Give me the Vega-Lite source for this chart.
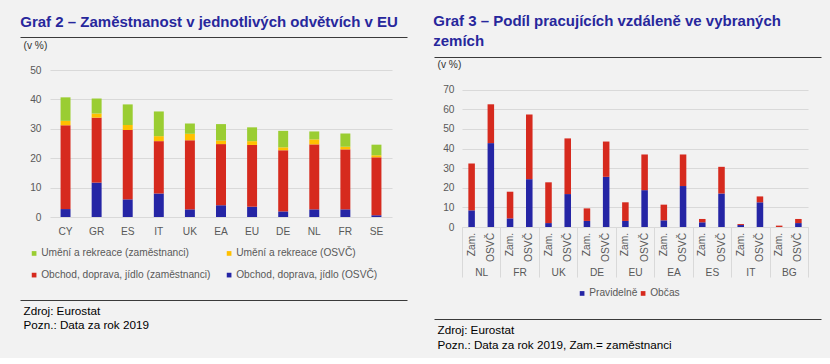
{
  "$schema": "https://vega.github.io/schema/vega-lite/v6.json",
  "background": "#f2f2f2",
  "padding": {"left": 17, "top": 14, "right": 4, "bottom": 7},
  "bounds": "flush",
  "spacing": 70,
  "resolve": {"scale": {"color": "independent"}, "legend": {"color": "independent"}},
  "config": {
    "font": "Liberation Sans",
    "view": {"stroke": null},
    "axis": {"labelFont": "Liberation Sans", "titleFont": "Liberation Sans", "labelFontSize": 10.2, "labelColor": "#595959", "gridColor": "#d9d9d9", "gridWidth": 1},
    "legend": {"labelFont": "Liberation Sans", "labelFontSize": 10.2, "labelColor": "#595959", "symbolType": "square", "symbolSize": 22, "labelOffset": 2, "title": null, "padding": 0},
    "title": {"font": "Liberation Sans"}
  },
  "datasets": {
    "vzdalene": [
      {"k": "NL Zam.", "zeme": "NL", "typ": "Zam.", "Pravidelně": 8.5, "Občas": 23.9},
      {"k": "NL OSVČ", "zeme": "NL", "typ": "OSVČ", "Pravidelně": 42.8, "Občas": 19.8},
      {"k": "FR Zam.", "zeme": "FR", "typ": "Zam.", "Pravidelně": 4.4, "Občas": 13.6},
      {"k": "FR OSVČ", "zeme": "FR", "typ": "OSVČ", "Pravidelně": 24.4, "Občas": 33.0},
      {"k": "UK Zam.", "zeme": "UK", "typ": "Zam.", "Pravidelně": 2.0, "Občas": 20.8},
      {"k": "UK OSVČ", "zeme": "UK", "typ": "OSVČ", "Pravidelně": 16.8, "Občas": 28.4},
      {"k": "DE Zam.", "zeme": "DE", "typ": "Zam.", "Pravidelně": 3.1, "Občas": 6.4},
      {"k": "DE OSVČ", "zeme": "DE", "typ": "OSVČ", "Pravidelně": 25.6, "Občas": 18.0},
      {"k": "EU Zam.", "zeme": "EU", "typ": "Zam.", "Pravidelně": 3.1, "Občas": 9.5},
      {"k": "EU OSVČ", "zeme": "EU", "typ": "OSVČ", "Pravidelně": 18.8, "Občas": 18.2},
      {"k": "EA Zam.", "zeme": "EA", "typ": "Zam.", "Pravidelně": 3.4, "Občas": 8.0},
      {"k": "EA OSVČ", "zeme": "EA", "typ": "OSVČ", "Pravidelně": 20.9, "Občas": 16.1},
      {"k": "ES Zam.", "zeme": "ES", "typ": "Zam.", "Pravidelně": 2.4, "Občas": 1.7},
      {"k": "ES OSVČ", "zeme": "ES", "typ": "OSVČ", "Pravidelně": 17.1, "Občas": 13.6},
      {"k": "IT Zam.", "zeme": "IT", "typ": "Zam.", "Pravidelně": 1.0, "Občas": 0.5},
      {"k": "IT OSVČ", "zeme": "IT", "typ": "OSVČ", "Pravidelně": 12.6, "Občas": 3.0},
      {"k": "BG Zam.", "zeme": "BG", "typ": "Zam.", "Pravidelně": 0.0, "Občas": 0.7},
      {"k": "BG OSVČ", "zeme": "BG", "typ": "OSVČ", "Pravidelně": 2.0, "Občas": 2.1}
    ],
    "zeme": [
      {"zeme": "NL"}, {"zeme": "FR"}, {"zeme": "UK"}, {"zeme": "DE"}, {"zeme": "EU"},
      {"zeme": "EA"}, {"zeme": "ES"}, {"zeme": "IT"}, {"zeme": "BG"}
    ],
    "jedna": [{"p": 0}]
  },
  "hconcat": [
    {
      "title": {"text": "Graf 2 – Zaměstnanost v jednotlivých odvětvích v EU", "anchor": "start", "dx": 3, "offset": 7, "fontSize": 15, "fontWeight": "bold", "color": "#27279c"},
      "width": 342,
      "height": 147,
      "resolve": {"scale": {"x": "independent"}, "axis": {"y": "independent"}},
      "layer": [
        {
          "data": {"values": [
            {"zeme": "CY", "kat": "Obchod, doprava, jídlo (OSVČ)", "v": 2.7},
            {"zeme": "CY", "kat": "Obchod, doprava, jídlo (zaměstnanci)", "v": 28.5},
            {"zeme": "CY", "kat": "Umění a rekreace (OSVČ)", "v": 1.5},
            {"zeme": "CY", "kat": "Umění a rekreace (zaměstnanci)", "v": 8.0},
            {"zeme": "GR", "kat": "Obchod, doprava, jídlo (OSVČ)", "v": 11.7},
            {"zeme": "GR", "kat": "Obchod, doprava, jídlo (zaměstnanci)", "v": 22.1},
            {"zeme": "GR", "kat": "Umění a rekreace (OSVČ)", "v": 1.4},
            {"zeme": "GR", "kat": "Umění a rekreace (zaměstnanci)", "v": 5.1},
            {"zeme": "ES", "kat": "Obchod, doprava, jídlo (OSVČ)", "v": 6.0},
            {"zeme": "ES", "kat": "Obchod, doprava, jídlo (zaměstnanci)", "v": 23.6},
            {"zeme": "ES", "kat": "Umění a rekreace (OSVČ)", "v": 1.7},
            {"zeme": "ES", "kat": "Umění a rekreace (zaměstnanci)", "v": 7.0},
            {"zeme": "IT", "kat": "Obchod, doprava, jídlo (OSVČ)", "v": 8.0},
            {"zeme": "IT", "kat": "Obchod, doprava, jídlo (zaměstnanci)", "v": 17.8},
            {"zeme": "IT", "kat": "Umění a rekreace (OSVČ)", "v": 1.7},
            {"zeme": "IT", "kat": "Umění a rekreace (zaměstnanci)", "v": 8.4},
            {"zeme": "UK", "kat": "Obchod, doprava, jídlo (OSVČ)", "v": 2.6},
            {"zeme": "UK", "kat": "Obchod, doprava, jídlo (zaměstnanci)", "v": 23.5},
            {"zeme": "UK", "kat": "Umění a rekreace (OSVČ)", "v": 2.2},
            {"zeme": "UK", "kat": "Umění a rekreace (zaměstnanci)", "v": 3.5},
            {"zeme": "EA", "kat": "Obchod, doprava, jídlo (OSVČ)", "v": 4.0},
            {"zeme": "EA", "kat": "Obchod, doprava, jídlo (zaměstnanci)", "v": 20.8},
            {"zeme": "EA", "kat": "Umění a rekreace (OSVČ)", "v": 1.2},
            {"zeme": "EA", "kat": "Umění a rekreace (zaměstnanci)", "v": 5.6},
            {"zeme": "EU", "kat": "Obchod, doprava, jídlo (OSVČ)", "v": 3.5},
            {"zeme": "EU", "kat": "Obchod, doprava, jídlo (zaměstnanci)", "v": 21.0},
            {"zeme": "EU", "kat": "Umění a rekreace (OSVČ)", "v": 1.3},
            {"zeme": "EU", "kat": "Umění a rekreace (zaměstnanci)", "v": 4.7},
            {"zeme": "DE", "kat": "Obchod, doprava, jídlo (OSVČ)", "v": 1.9},
            {"zeme": "DE", "kat": "Obchod, doprava, jídlo (zaměstnanci)", "v": 20.8},
            {"zeme": "DE", "kat": "Umění a rekreace (OSVČ)", "v": 1.0},
            {"zeme": "DE", "kat": "Umění a rekreace (zaměstnanci)", "v": 5.6},
            {"zeme": "NL", "kat": "Obchod, doprava, jídlo (OSVČ)", "v": 2.6},
            {"zeme": "NL", "kat": "Obchod, doprava, jídlo (zaměstnanci)", "v": 22.1},
            {"zeme": "NL", "kat": "Umění a rekreace (OSVČ)", "v": 1.7},
            {"zeme": "NL", "kat": "Umění a rekreace (zaměstnanci)", "v": 2.7},
            {"zeme": "FR", "kat": "Obchod, doprava, jídlo (OSVČ)", "v": 2.6},
            {"zeme": "FR", "kat": "Obchod, doprava, jídlo (zaměstnanci)", "v": 20.4},
            {"zeme": "FR", "kat": "Umění a rekreace (OSVČ)", "v": 0.9},
            {"zeme": "FR", "kat": "Umění a rekreace (zaměstnanci)", "v": 4.5},
            {"zeme": "SE", "kat": "Obchod, doprava, jídlo (OSVČ)", "v": 0.6},
            {"zeme": "SE", "kat": "Obchod, doprava, jídlo (zaměstnanci)", "v": 19.7},
            {"zeme": "SE", "kat": "Umění a rekreace (OSVČ)", "v": 0.7},
            {"zeme": "SE", "kat": "Umění a rekreace (zaměstnanci)", "v": 3.6}
          ]},
          "mark": {"type": "bar"},
          "encoding": {
            "x": {"field": "zeme", "type": "nominal", "sort": null, "scale": {"paddingInner": 0.68, "paddingOuter": 0.34}, "axis": {"title": null, "labelAngle": 0, "domain": false, "ticks": false, "tickSize": 0, "labelPadding": 9}},
            "y": {"field": "v", "type": "quantitative", "stack": "zero", "scale": {"domain": [0, 50], "nice": false}, "axis": {"values": [0, 10, 20, 30, 40, 50], "domain": false, "ticks": false, "tickSize": 0, "labelPadding": 9, "grid": true, "title": "(v %)", "titleAngle": 0, "titleX": -27, "titleY": -25, "titleAlign": "left", "titleBaseline": "middle", "titleFontWeight": "normal", "titleFontSize": 10.2, "titleColor": "#333333"}},
            "color": {"field": "kat", "type": "nominal", "scale": {"domain": ["Umění a rekreace (zaměstnanci)", "Umění a rekreace (OSVČ)", "Obchod, doprava, jídlo (zaměstnanci)", "Obchod, doprava, jídlo (OSVČ)"], "range": ["#9acd32", "#ffc000", "#d62a1e", "#2525a5"]}, "legend": {"orient": "none", "legendX": -21, "legendY": 178, "columns": 2, "direction": "horizontal", "columnPadding": 13, "rowPadding": 11, "labelLimit": 300}},
            "order": {"field": "kat", "sort": "ascending"}
          }
        },
        {
          "data": {"name": "jedna"},
          "mark": {"type": "point", "opacity": 0},
          "encoding": {
            "x": {"field": "p", "type": "quantitative", "scale": {"domain": [0, 1], "range": [-30, 357], "nice": false, "zero": false}, "axis": {"orient": "top", "offset": 33, "domain": true, "domainColor": "#3a3a3a", "domainWidth": 1, "ticks": false, "labels": false, "grid": false, "title": null}},
            "y": {"datum": 0, "axis": null}
          }
        },
        {
          "data": {"name": "jedna"},
          "mark": {"type": "point", "opacity": 0},
          "encoding": {
            "x": {"field": "p", "type": "quantitative", "scale": {"domain": [0, 1], "range": [-30, 357], "nice": false, "zero": false}, "axis": {"orient": "bottom", "offset": 83, "domain": true, "domainColor": "#3a3a3a", "domainWidth": 1, "ticks": false, "labels": false, "grid": false, "title": ["Zdroj: Eurostat", "Pozn.: Data za rok 2019"], "titleFontSize": 11.7, "titleFontWeight": "normal", "titleColor": "#000000", "titleAnchor": "start", "titleAlign": "left", "titleBaseline": "top", "titleX": -27, "titleY": 5, "titleLineHeight": 14}},
            "y": {"datum": 0, "axis": null}
          }
        }
      ]
    },
    {
      "title": {"text": ["Graf 3 – Podíl pracujících vzdáleně ve vybraných", "zemích"], "anchor": "start", "dx": 2, "offset": 8, "fontSize": 15, "fontWeight": "bold", "color": "#27279c", "lineHeight": 20},
      "width": 346,
      "height": 157,
      "resolve": {"scale": {"x": "independent"}, "axis": {"y": "independent"}},
      "layer": [
        {
          "data": {"name": "vzdalene"},
          "transform": [{"fold": ["Pravidelně", "Občas"], "as": ["druh", "podil"]}],
          "mark": {"type": "bar"},
          "encoding": {
            "x": {"field": "k", "type": "nominal", "sort": null, "scale": {"paddingInner": 0.66, "paddingOuter": 0.33}, "axis": null},
            "y": {"field": "podil", "type": "quantitative", "stack": "zero", "scale": {"domain": [0, 80.1], "nice": false}, "axis": {"values": [0, 10, 20, 30, 40, 50, 60, 70], "domain": false, "ticks": false, "tickSize": 0, "labelPadding": 8, "grid": true, "title": "(v %)", "titleAngle": 0, "titleX": -25, "titleY": -6, "titleAlign": "left", "titleBaseline": "middle", "titleFontWeight": "normal", "titleFontSize": 10.2, "titleColor": "#333333"}},
            "color": {"field": "druh", "type": "nominal", "scale": {"domain": ["Pravidelně", "Občas"], "range": ["#2525a5", "#d62a1e"]}, "legend": {"orient": "none", "legendX": 115, "legendY": 218, "direction": "horizontal", "columns": 2, "columnPadding": 0}},
            "order": {"field": "druh", "sort": "descending"}
          }
        },
        {
          "data": {"name": "vzdalene"},
          "mark": {"type": "text", "angle": 270, "align": "right", "baseline": "middle", "dx": -6, "fontSize": 10.2, "color": "#595959"},
          "encoding": {
            "x": {"field": "k", "type": "nominal", "sort": null, "scale": {"paddingInner": 0.66, "paddingOuter": 0.33}, "axis": null},
            "y": {"datum": 0, "axis": null},
            "text": {"field": "typ"}
          }
        },
        {
          "data": {"name": "zeme"},
          "mark": {"type": "point", "opacity": 0},
          "encoding": {
            "x": {"field": "zeme", "type": "nominal", "sort": null, "scale": {"paddingInner": 0, "paddingOuter": 0}, "axis": {"title": null, "labelAngle": 0, "domain": true, "domainColor": "#d9d9d9", "ticks": true, "tickBand": "extent", "tickSize": 50, "tickColor": "#d9d9d9", "labelPadding": -10}},
            "y": {"datum": 0, "axis": null}
          }
        },
        {
          "data": {"name": "jedna"},
          "mark": {"type": "point", "opacity": 0},
          "encoding": {
            "x": {"field": "p", "type": "quantitative", "scale": {"domain": [0, 1], "range": [-28, 359], "nice": false, "zero": false}, "axis": {"orient": "top", "offset": 13, "domain": true, "domainColor": "#3a3a3a", "domainWidth": 1, "ticks": false, "labels": false, "grid": false, "title": null}},
            "y": {"datum": 0, "axis": null}
          }
        },
        {
          "data": {"name": "jedna"},
          "mark": {"type": "point", "opacity": 0},
          "encoding": {
            "x": {"field": "p", "type": "quantitative", "scale": {"domain": [0, 1], "range": [-28, 359], "nice": false, "zero": false}, "axis": {"orient": "bottom", "offset": 92, "domain": true, "domainColor": "#3a3a3a", "domainWidth": 1, "ticks": false, "labels": false, "grid": false, "title": ["Zdroj: Eurostat", "Pozn.: Data za rok 2019, Zam.= zaměstnanci"], "titleFontSize": 11.7, "titleFontWeight": "normal", "titleColor": "#000000", "titleAnchor": "start", "titleAlign": "left", "titleBaseline": "top", "titleX": -25, "titleY": 5, "titleLineHeight": 15}},
            "y": {"datum": 0, "axis": null}
          }
        }
      ]
    }
  ]
}
